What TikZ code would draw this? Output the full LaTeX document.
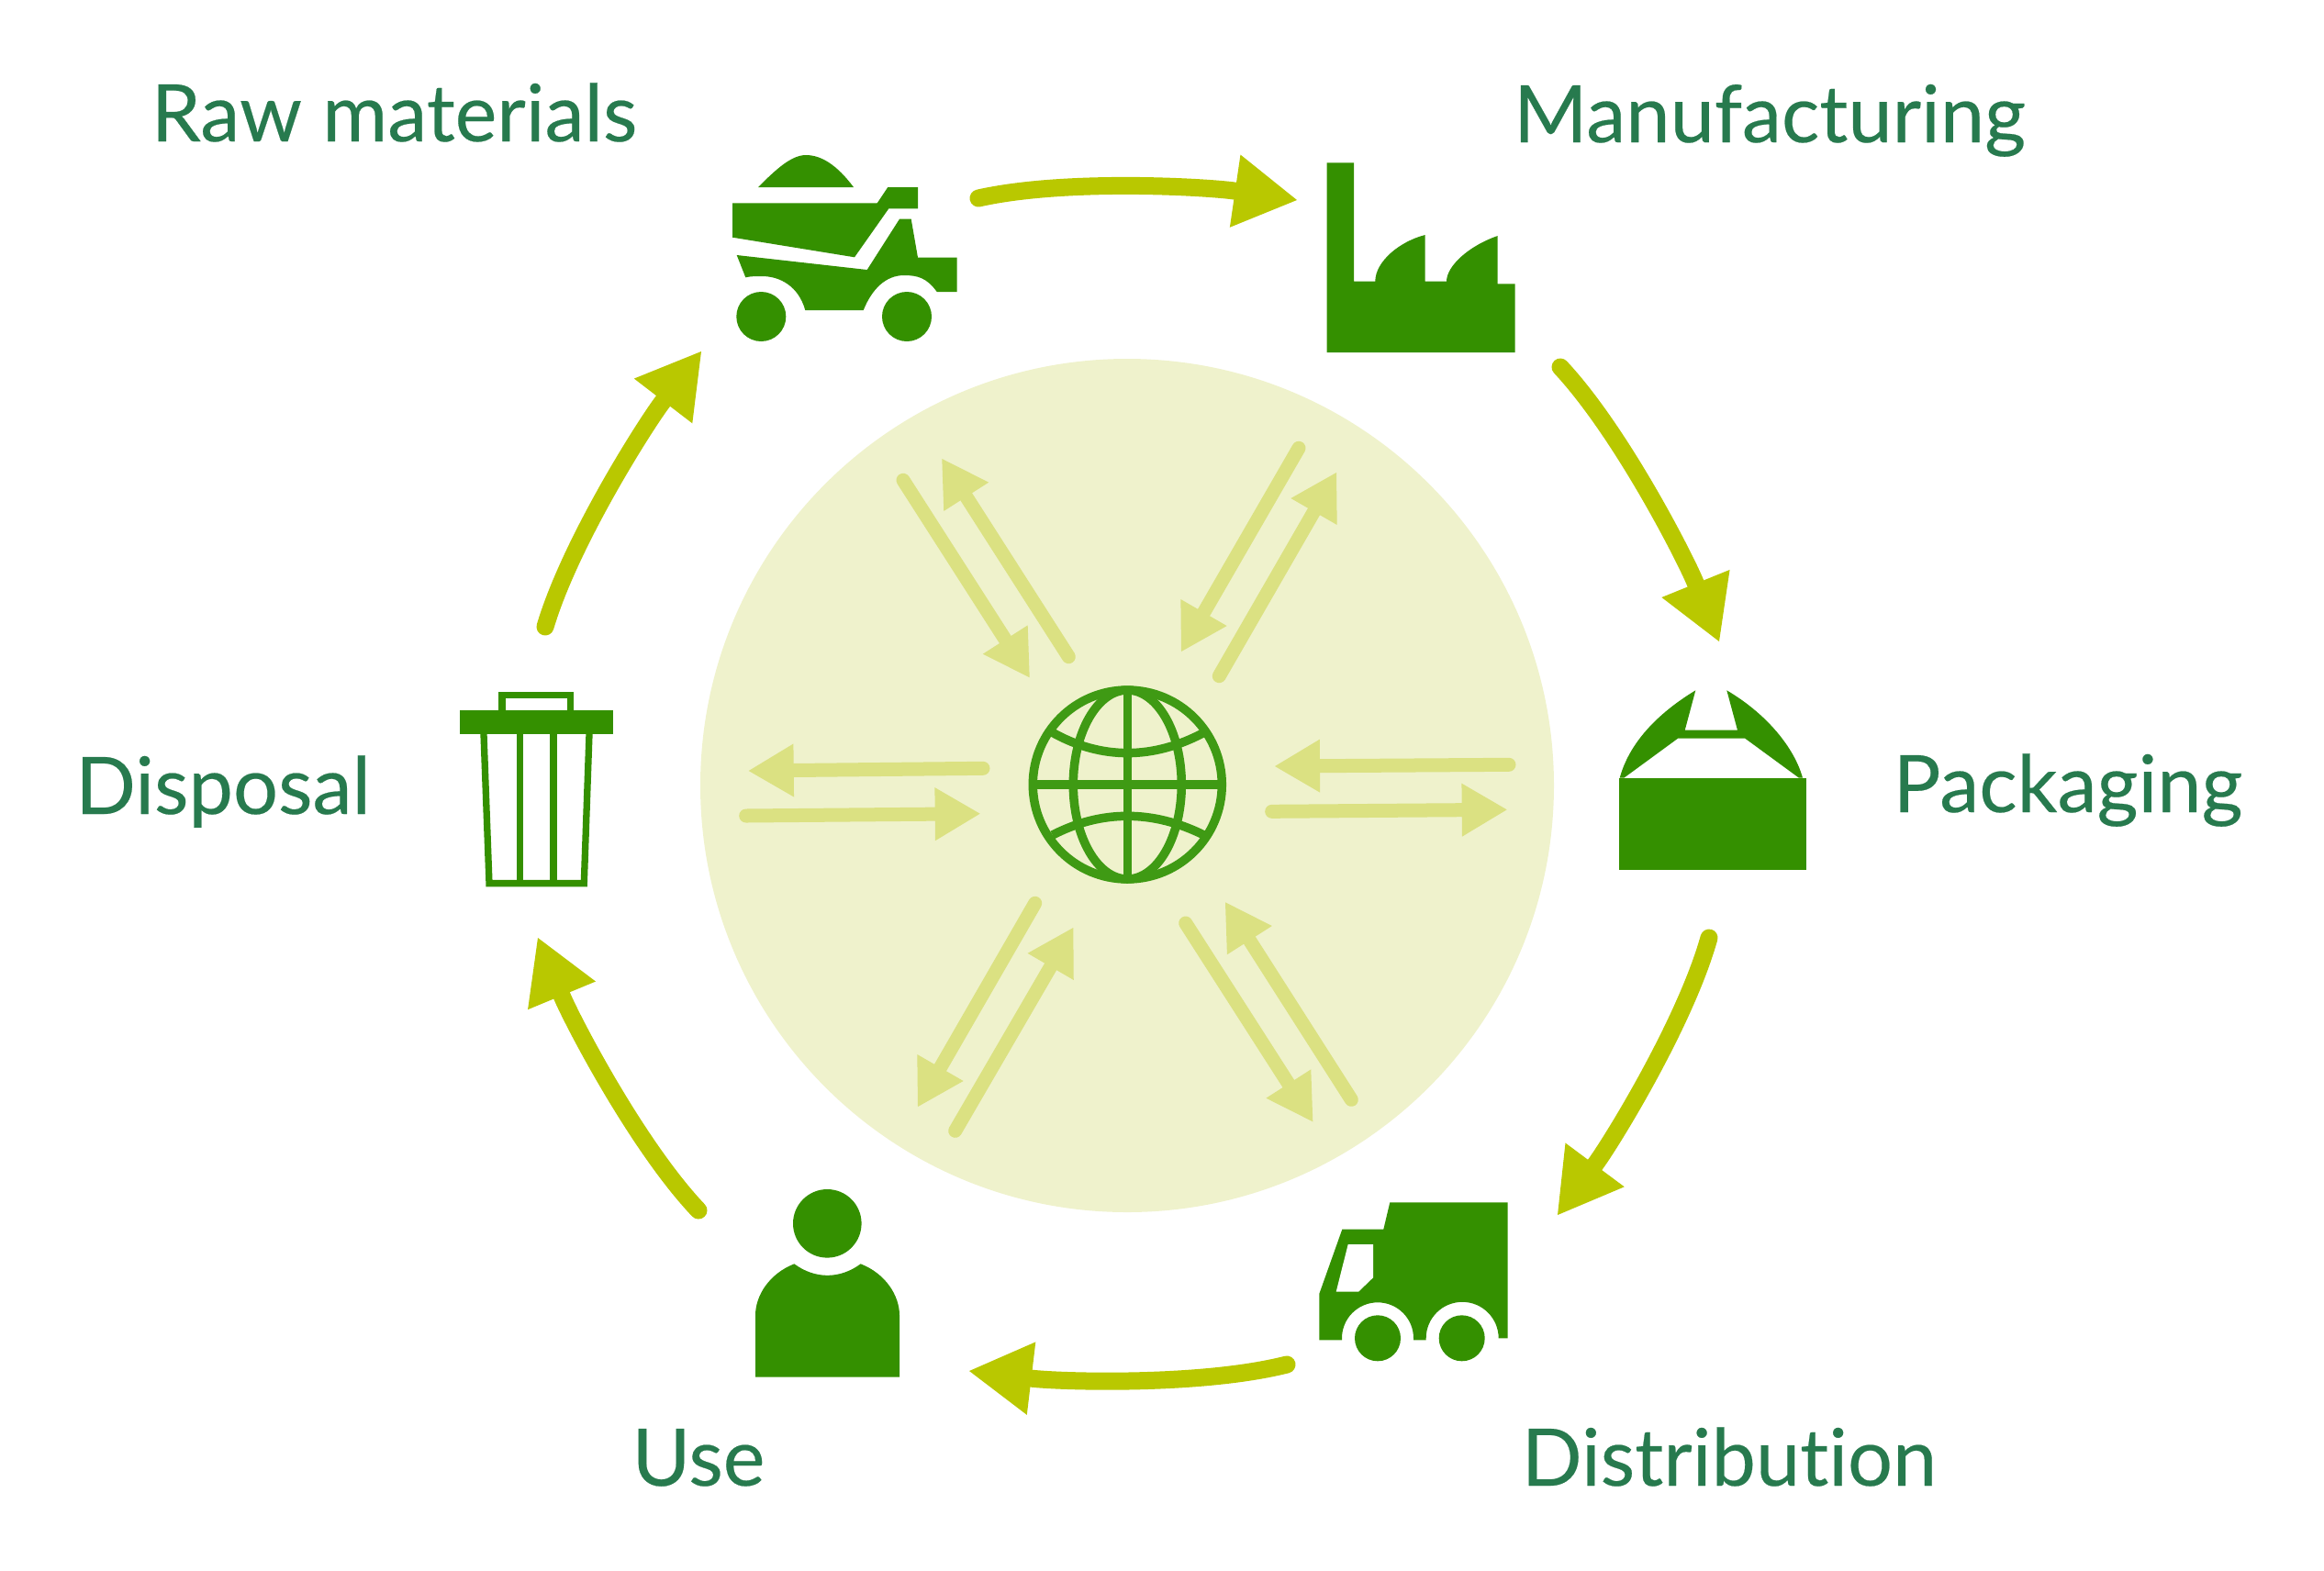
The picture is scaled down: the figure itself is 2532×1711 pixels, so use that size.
\documentclass[tikz,border=0pt]{standalone}
\usepackage{fontspec}
\setmainfont{Lato}[Ligatures=NoCommon, FakeBold=.25]
\usetikzlibrary{arrows.meta}
\definecolor{iconGreen}{HTML}{349000}
\definecolor{globeGreen}{HTML}{3F9A14}
\definecolor{labelGreen}{HTML}{277A4E}
\definecolor{limeArrow}{HTML}{B9C800}
\definecolor{paleArrow}{HTML}{DBE182}
\definecolor{paleDisc}{HTML}{EFF2CC}
\tikzset{
	stepLabel/.style={anchor=base, inner sep=0, text=labelGreen, font=\fontsize{24.6}{30}\selectfont},
	cycleArrow/.style={limeArrow, line width=.19cm, line cap=round, -{Triangle[length=.68cm, width=.8cm, line width=0pt]}},
	paleFlow/.style={paleArrow, line width=.15cm, line cap=round, -{Triangle[length=.49cm, width=.58cm, line width=0pt]}},
}

\begin{document}
\begin{tikzpicture}[x=.01cm, y=-.01cm]
	\useasboundingbox (0, 0) rectangle (2532, 1711);
	\fill[paleDisc] (1228, 856) circle[radius=465];

	% labels
	\node[stepLabel] (rawLabel) at (429.5, 154) {Raw materials};
	\node[stepLabel] (manufacturingLabel) at (1928, 155) {Manufacturing};
	\node[stepLabel] (packagingLabel) at (2253, 885) {Packaging};
	\node[stepLabel] (distributionLabel) at (1884, 1619) {Distribution};
	\node[stepLabel] (useLabel) at (761, 1619) {Use};
	\node[stepLabel] (disposalLabel) at (243, 887) {Disposal};

	% dump truck
	\fill[iconGreen] (826, 204) .. controls (845, 185) and (862, 169) .. (878, 169) .. controls (895, 169) and (912, 180) .. (930, 204) -- cycle;
	\fill[iconGreen] (798, 221.3) -- (955.7, 221.3) -- (967.3, 204) -- (1000, 204) -- (1000, 227.3) -- (968.3, 227.3) -- (931, 280.3) -- (798, 258.7) -- cycle;
	\fill[iconGreen] (802.7, 278) -- (944.7, 294) -- (980, 238.7) -- (992.7, 238.7) -- (1000, 280.7) -- (1042.7, 280.7) -- (1042.7, 318) -- (1020.7, 318)
		.. controls (1010, 303) and (1000, 300) .. (985, 300) .. controls (965, 300) and (950, 315) .. (940.7, 338) -- (877.3, 338)
		.. controls (870, 312) and (850, 301) .. (830, 301) .. controls (823, 301) and (818, 301) .. (812.3, 302.3) -- cycle;
	\foreach \wheel in {829.3, 988} {
		\fill[iconGreen] (\wheel, 345) circle[radius=27];
	}

	% factory
	\fill[iconGreen] (1445.7, 177.3) -- (1475, 177.3) -- (1475, 306.7) -- (1498.3, 306.7) .. controls (1498.3, 285) and (1525, 263) .. (1552.7, 256)
		-- (1552.7, 306.7) -- (1576, 306.7) .. controls (1576, 290) and (1600, 268) .. (1631.7, 257) -- (1631.7, 309.3) -- (1650.7, 309.3) -- (1650.7, 384) -- (1445.7, 384) -- cycle;

	% box
	\fill[iconGreen] (1764, 847.7) rectangle (1968.3, 947.7);
	\fill[iconGreen] (1764.7, 847.7) .. controls (1775, 810) and (1805, 778) .. (1847.3, 752.3) -- (1835.7, 795.7) -- (1893, 795.7) -- (1881.3, 752.3)
		.. controls (1925, 778) and (1955, 815) .. (1964, 847.7) -- (1960, 847.7) -- (1901.3, 804.7) -- (1828, 804.7) -- (1769.3, 847.7) -- cycle;

	% delivery truck
	\fill[iconGreen] (1514.3, 1310.3) -- (1642.7, 1310.3) -- (1642.7, 1458.3) -- (1632.7, 1458.3) arc (0:-180:39.5) -- (1553.7, 1460.3) -- (1540, 1460.3) -- (1540, 1458.3) arc (0:-180:39)
		-- (1462, 1460.3) -- (1437.3, 1460.3) -- (1437.3, 1410) -- (1462.3, 1339.7) -- (1507.3, 1339.7) -- cycle;
	\fill[white] (1468.7, 1356) -- (1496, 1356) -- (1496, 1392.3) -- (1480, 1407.7) -- (1455.7, 1407.7) -- cycle;
	\foreach \wheel in {1501, 1592.7} {
		\fill[iconGreen] (\wheel, 1458.3) circle[radius=25];
	}

	% person
	\fill[iconGreen] (901.3, 1333.3) circle[radius=37.3];
	\fill[iconGreen] (865.3, 1377.3) .. controls (888, 1394) and (915, 1394) .. (937.7, 1377.3) .. controls (965, 1388) and (980, 1412) .. (980, 1433.3)
		-- (980, 1500.7) -- (823, 1500.7) -- (823, 1433.3) .. controls (823, 1412) and (838, 1388) .. (865.3, 1377.3) -- cycle;

	% bin
	\draw[iconGreen, line width=.075cm] (547, 775) -- (547, 757.5) -- (621.5, 757.5) -- (621.5, 775);
	\fill[iconGreen] (501.3, 774.3) rectangle (667.7, 800);
	\draw[iconGreen, line width=.073cm] (527, 800) -- (533, 962.6) -- (636.3, 962.6) -- (642, 800);
	\foreach \slat in {566.3, 603} {
		\draw[iconGreen, line width=.075cm] (\slat, 800) -- (\slat, 962);
	}

	% globe
	\begin{scope}[globeGreen, line width=.095cm]
		\draw (1228.3, 855) circle[radius=103];
		\draw (1228.3, 855) circle[x radius=59, y radius=103];
		\draw (1228.3, 752) -- (1228.3, 958);
		\draw (1125, 855) -- (1331, 855);
		\draw (1146.7, 798.3) .. controls (1200, 828) and (1256, 828) .. (1311.7, 798.3);
		\draw (1146.7, 910) .. controls (1200, 882.4) and (1256, 882.4) .. (1311.7, 910);
	\end{scope}

	% arrows round the ring
	\coordinate (rawEnd) at (1066, 216);
	\coordinate (factoryTip) at (1413, 218);
	\coordinate (factoryEnd) at (1700, 400);
	\coordinate (boxTip) at (1873, 699);
	\coordinate (boxEnd) at (1862, 1022);
	\coordinate (truckTip) at (1697, 1324);
	\coordinate (truckEnd) at (1402, 1487);
	\coordinate (personTip) at (1056, 1494);
	\coordinate (personEnd) at (761, 1319);
	\coordinate (binTip) at (586, 1022);
	\coordinate (binEnd) at (594, 683);
	\coordinate (rawTip) at (764, 383);
	\foreach \from/\to in {rawEnd/factoryTip, factoryEnd/boxTip, boxEnd/truckTip, truckEnd/personTip, personEnd/binTip, binEnd/rawTip} {
		\draw[cycleArrow] (\from) to[relative, out=13, in=172, looseness=.72] (\to);
	}

	% pale arrows on the disc
	\coordinate (nwInEnd) at (984, 523.3);
	\coordinate (nwInTip) at (1121.7, 738.3);
	\coordinate (nwOutEnd) at (1164.3, 715.7);
	\coordinate (nwOutTip) at (1026.3, 500);
	\coordinate (neInEnd) at (1415, 488.3);
	\coordinate (neInTip) at (1287, 710);
	\coordinate (neOutEnd) at (1328.3, 736.7);
	\coordinate (neOutTip) at (1456, 515);
	\coordinate (wOutEnd) at (1071, 837.3);
	\coordinate (wOutTip) at (815.7, 840);
	\coordinate (wInEnd) at (812.7, 889);
	\coordinate (wInTip) at (1067.7, 886.7);
	\coordinate (eInEnd) at (1644, 833.3);
	\coordinate (eInTip) at (1389, 835);
	\coordinate (eOutEnd) at (1385.7, 884.3);
	\coordinate (eOutTip) at (1641.7, 882.3);
	\coordinate (swOutEnd) at (1127.7, 984.3);
	\coordinate (swOutTip) at (1000, 1206);
	\coordinate (swInEnd) at (1040.7, 1232.3);
	\coordinate (swInTip) at (1169.3, 1011);
	\coordinate (seOutEnd) at (1291.7, 1006);
	\coordinate (seOutTip) at (1430.3, 1222.3);
	\coordinate (seInEnd) at (1472.3, 1198.3);
	\coordinate (seInTip) at (1335, 983.3);
	\foreach \way in {nwIn, nwOut, neIn, neOut, wOut, wIn, eIn, eOut, swOut, swIn, seOut, seIn} {
		\draw[paleFlow] (\way End) -- (\way Tip);
	}
\end{tikzpicture}
\end{document}
